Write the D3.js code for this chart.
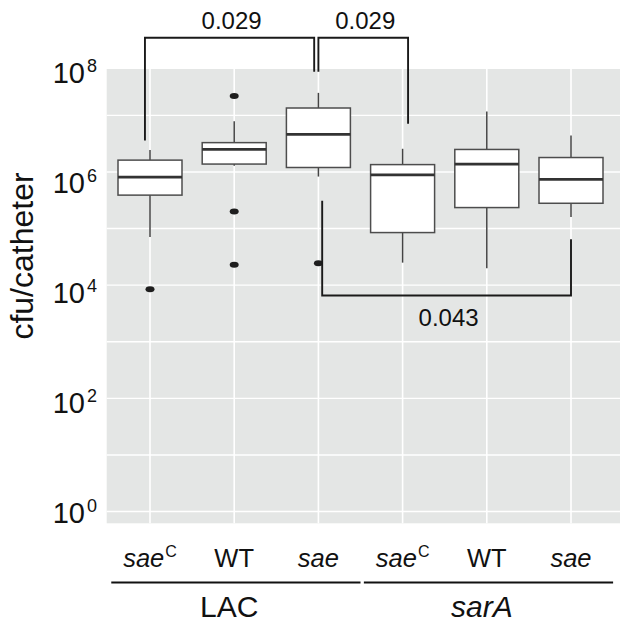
<!DOCTYPE html>
<html>
<head>
<meta charset="utf-8">
<script src="https://cdn.jsdelivr.net/npm/d3@7"></script>
<style>
  html, body { margin: 0; padding: 0; background: #ffffff; }
  svg { display: block; font-family: "Liberation Sans", Arial, Helvetica, sans-serif; }
</style>
</head>
<body>
<svg id="chart" width="629" height="629"></svg>
<script>
// ---------------- data ----------------
const categories   = ["saeC LAC", "WT LAC", "sae LAC", "saeC sarA", "WT sarA", "sae sarA"];
const strainNames  = ["sae", "WT", "sae", "sae", "WT", "sae"];
const strainSup    = ["C", "", "", "C", "", ""];
const strainItalic = [true, false, true, true, false, true];
const groupNames   = ["LAC", "sarA"];
const groupItalic  = [false, true];
const groupMembers = [[0, 1, 2], [3, 4, 5]];

const whiskerHigh = [2.45e6, 7.9e6, 2.5e7, 2.57e6, 1.17e7, 4.4e6];
const quart3      = [1.62e6, 3.3e6, 1.35e7, 1.35e6, 2.5e6, 1.8e6];
const medians     = [8.1e5, 2.5e6, 4.6e6, 8.9e5, 1.38e6, 7.4e5];
const quart1      = [3.9e5, 1.38e6, 1.2e6, 8.5e4, 2.35e5, 2.8e5];
const whiskerLow  = [7.1e4, 1.29e6, 8.3e5, 2.5e4, 2.0e4, 1.6e5];
const outliers    = [[8.5e3], [2.2e7, 2.0e5, 2.3e4], [2.45e4], [], [], []];

const yTickValues = [1, 1e2, 1e4, 1e6, 1e8];
const yTickExp    = ["0", "2", "4", "6", "8"];
const yGridValues = [1, 1e1, 1e2, 1e3, 1e4, 1e5, 1e6, 1e7];

// significance brackets: categories compared, p-value, leg ends (cfu)
const bracketFrom  = [0, 2, 2];
const bracketTo    = [2, 3, 5];
const bracketP     = ["0.029", "0.029", "0.043"];
const bracketBar   = [2.35e8, 2.35e8, 6.55e3];
const bracketLegA  = [3.6e6, 5.9e7, 3.1e5];
const bracketLegB  = [5.9e7, 7.1e6, 6.5e4];

// ---------------- layout ----------------
const svg = d3.select("#chart");
const panel = { left: 106.7, right: 620, top: 69, bottom: 523.3 };

const x = d3.scalePoint().domain(d3.range(categories.length)).range([150, 571]);
const step = x.step();
const y = d3.scaleLog().domain([0.62, 6.6e7]).range([panel.bottom, panel.top]);
// tick label placement (labels sit slightly offset from grid, as in the original)
const yLab = d3.scaleLog().domain([1, 1e8]).range([523.3, 82.7]);

const boxW = 64;

// panel background
svg.append("rect")
  .attr("x", panel.left).attr("y", panel.top)
  .attr("width", panel.right - panel.left).attr("height", panel.bottom - panel.top)
  .attr("fill", "#e4e6e5");

// grid
const grid = svg.append("g");
grid.selectAll("line.h").data(yGridValues).join("line")
  .attr("class", "h")
  .attr("x1", panel.left).attr("x2", panel.right)
  .attr("y1", d => y(d)).attr("y2", d => y(d))
  .attr("stroke", "#ffffff").attr("stroke-width", 1.4);
grid.selectAll("line.v").data(d3.range(categories.length)).join("line")
  .attr("class", "v")
  .attr("y1", panel.top).attr("y2", panel.bottom)
  .attr("x1", d => x(d)).attr("x2", d => x(d))
  .attr("stroke", "#ffffff").attr("stroke-width", 1.6);

// boxes
const boxes = svg.append("g");
d3.range(categories.length).forEach(i => {
  const cx = x(i);
  const g = boxes.append("g");
  g.append("line")
    .attr("x1", cx).attr("x2", cx)
    .attr("y1", y(whiskerHigh[i])).attr("y2", y(quart3[i]))
    .attr("stroke", "#444").attr("stroke-width", 1.5);
  g.append("line")
    .attr("x1", cx).attr("x2", cx)
    .attr("y1", y(quart1[i])).attr("y2", y(whiskerLow[i]))
    .attr("stroke", "#444").attr("stroke-width", 1.5);
  g.append("rect")
    .attr("x", cx - boxW / 2).attr("width", boxW)
    .attr("y", y(quart3[i])).attr("height", y(quart1[i]) - y(quart3[i]))
    .attr("fill", "#ffffff").attr("stroke", "#4d4d4d").attr("stroke-width", 1.5);
  g.append("line")
    .attr("x1", cx - boxW / 2).attr("x2", cx + boxW / 2)
    .attr("y1", y(medians[i])).attr("y2", y(medians[i]))
    .attr("stroke", "#333333").attr("stroke-width", 2.8);
  g.selectAll("ellipse").data(outliers[i]).join("ellipse")
    .attr("cx", cx).attr("cy", d => y(d))
    .attr("rx", 4.5).attr("ry", 3)
    .attr("fill", "#1e1e1e");
});

// y tick labels
const yt = svg.append("g").attr("fill", "#111");
yTickValues.forEach((v, k) => {
  const t = yt.append("text")
    .attr("x", 97).attr("y", yLab(v))
    .attr("text-anchor", "end")
    .attr("font-size", 29);
  t.append("tspan").text("10");
  t.append("tspan").attr("dy", -11).attr("dx", 2).attr("font-size", 18).text(yTickExp[k]);
});

// y title
svg.append("text")
  .attr("transform", "translate(33,256) rotate(-90)")
  .attr("text-anchor", "middle")
  .attr("font-size", 32)
  .attr("fill", "#111")
  .text("cfu/catheter");

// category labels
const xl = svg.append("g").attr("fill", "#111");
d3.range(categories.length).forEach(i => {
  const t = xl.append("text")
    .attr("x", x(i)).attr("y", 567)
    .attr("text-anchor", "middle")
    .attr("font-size", 25.5);
  t.append("tspan").attr("font-style", strainItalic[i] ? "italic" : "normal").text(strainNames[i]);
  if (strainSup[i]) {
    t.append("tspan").attr("dy", -10).attr("dx", 1).attr("font-size", 16).text(strainSup[i]);
  }
});

// group lines & labels
groupNames.forEach((name, gi) => {
  const mem = groupMembers[gi];
  const x0 = x(mem[0]) - 0.46 * step;
  const x1 = x(mem[mem.length - 1]) + 0.5 * step;
  svg.append("line")
    .attr("x1", x0).attr("x2", x1)
    .attr("y1", 582.5).attr("y2", 582.5)
    .attr("stroke", "#111").attr("stroke-width", 1.8);
  svg.append("text")
    .attr("x", x(mem[1]) - 5).attr("y", 617)
    .attr("text-anchor", "middle")
    .attr("font-size", 30)
    .attr("font-style", groupItalic[gi] ? "italic" : "normal")
    .attr("fill", "#111")
    .text(name);
});

// significance brackets
const legOffset = [[-0.06, -0.05], [0.0, 0.065], [0.045, 0.0]];
const br = svg.append("g");
bracketP.forEach((p, k) => {
  const xa = x(bracketFrom[k]) + legOffset[k][0] * step;
  const xb = x(bracketTo[k]) + legOffset[k][1] * step;
  const yb = y(bracketBar[k]);
  const path = d3.path();
  path.moveTo(xa, y(bracketLegA[k]));
  path.lineTo(xa, yb);
  path.lineTo(xb, yb);
  path.lineTo(xb, y(bracketLegB[k]));
  br.append("path")
    .attr("d", path.toString())
    .attr("fill", "none").attr("stroke", "#1a1a1a").attr("stroke-width", 1.9);
  const above = bracketLegA[k] < bracketBar[k];
  br.append("text")
    .attr("x", (xa + xb) / 2 + 2)
    .attr("y", above ? yb - 9 : yb + 30)
    .attr("text-anchor", "middle")
    .attr("font-size", 24)
    .attr("fill", "#111")
    .text(p);
});
</script>
</body>
</html>
